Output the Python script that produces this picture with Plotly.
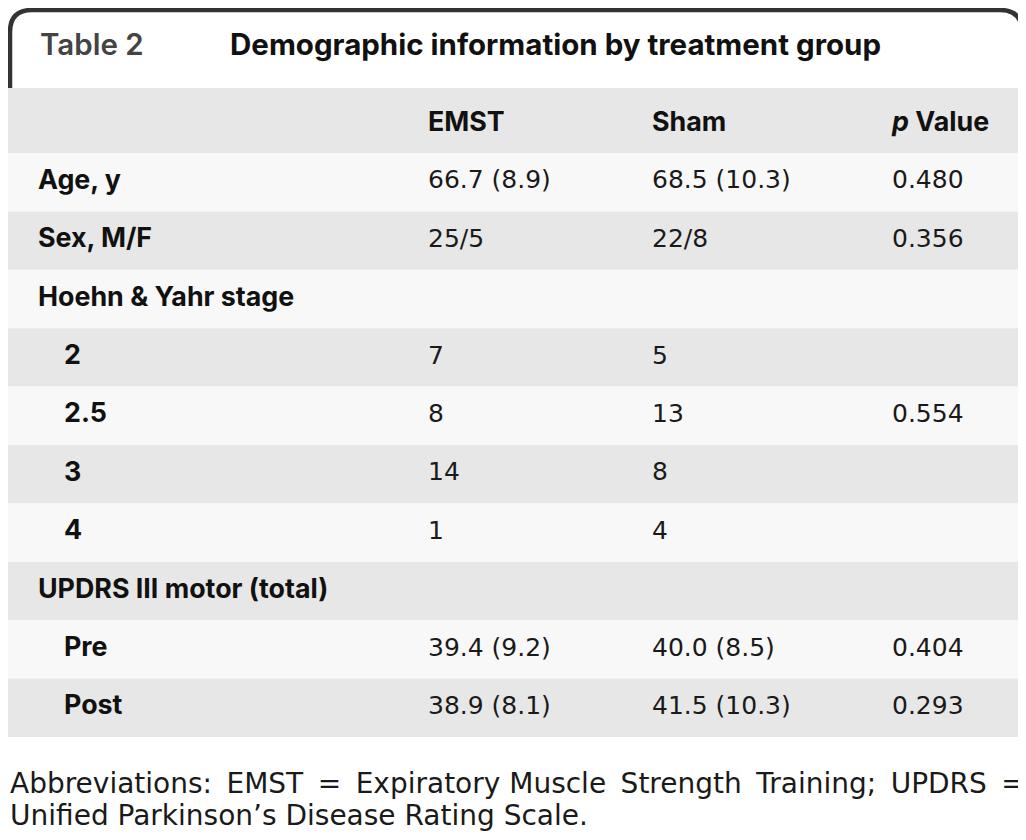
import plotly.graph_objects as go

# table content
row_labels = ["Age, y", "Sex, M/F", "Hoehn & Yahr stage", "2", "2.5", "3", "4",
              "UPDRS III motor (total)", "Pre", "Post"]
indented = [False, False, False, True, True, True, True, False, True, True]
emst = ["66.7 (8.9)", "25/5", "", "7", "8", "14", "1", "", "39.4 (9.2)", "38.9 (8.1)"]
sham = ["68.5 (10.3)", "22/8", "", "5", "13", "8", "4", "", "40.0 (8.5)", "41.5 (10.3)"]
p_values = ["0.480", "0.356", "", "", "0.554", "", "", "", "0.404", "0.293"]
col_headers = ["EMST", "Sham", "<i>p</i> Value"]

title_num = "Table 2"
title_text = "Demographic information by treatment group"
footnote_lines = ["Abbreviations: EMST = Expiratory Muscle Strength Training; UPDRS =",
                  "Unified Parkinson\u2019s Disease Rating Scale."]

# the page body has an 8px margin, so the axes work in picture pixels 8..W
W, H = 1026, 840
OFF = 8
GRAY = "#e7e7e7"
LIGHT = "#f8f8f8"
BOLD = "Inter"
REG = "DejaVu Sans"

# layout of the rows (pixels)
table_top = 88
head_h = 65
row_h = 58.4
col_x = [38, 428, 652, 892]
indent = 26

n = len(row_labels)
row_mid = [table_top + head_h + row_h * (i + 0.5) for i in range(n)]
head_mid = table_top + head_h / 2

fig = go.Figure()

# row backgrounds
fig.add_trace(go.Bar(
    orientation="h",
    y=[head_mid] + row_mid,
    x=[W] * (n + 1),
    base=0,
    width=[head_h] + [row_h] * n,
    marker=dict(color=[GRAY] + [LIGHT if i % 2 == 0 else GRAY for i in range(n)],
                line=dict(width=0)),
    hoverinfo="skip",
))

# row labels
fig.add_trace(go.Scatter(
    x=[col_x[0] + (indent if ind else 0) for ind in indented],
    y=row_mid,
    mode="text",
    text=["<b>" + s + "</b>" for s in row_labels],
    textposition="middle right",
    textfont=dict(family=BOLD, size=26.8, color="#111111"),
    hoverinfo="skip",
))

# column headers
fig.add_trace(go.Scatter(
    x=col_x[1:],
    y=[head_mid + 3.5] * 3,
    mode="text",
    text=["<b>" + s + "</b>" for s in col_headers],
    textposition="middle right",
    textfont=dict(family=BOLD, size=26.8, color="#111111"),
    hoverinfo="skip",
))

# values
for cx, col in zip(col_x[1:], [emst, sham, p_values]):
    fig.add_trace(go.Scatter(
        x=[cx] * n,
        y=row_mid,
        mode="text",
        text=col,
        textposition="middle right",
        textfont=dict(family=REG, size=25, color="#1a1a1a"),
        hoverinfo="skip",
    ))

# rounded tab around the title
r = 22
t, l, rr = 10, 10, W - 4
path = (f"M {l},{table_top} L {l},{t + r} Q {l},{t} {l + r},{t} "
        f"L {rr - r},{t} Q {rr},{t} {rr},{t + r} L {rr},{table_top}")
fig.add_shape(type="path", path=path, xref="x", yref="y",
              line=dict(color="#333333", width=4.5))

fig.add_annotation(x=col_x[0], y=44, xref="x", yref="y",
                   text=title_num, showarrow=False,
                   xanchor="left", yanchor="middle",
                   font=dict(family=BOLD, size=29.5, color="#444444", weight=600))
fig.add_annotation(x=228, y=44, xref="x", yref="y",
                   text="<b>" + title_text + "</b>", showarrow=False,
                   xanchor="left", yanchor="middle",
                   font=dict(family=BOLD, size=29.5, color="#111111"))

# first footnote line is justified in the original: widen its word gaps a little
words = footnote_lines[0].split(" ")
line1 = words[0] + "".join((" " if i == 3 else "\u2009 ") + w
                           for i, w in enumerate(words[1:]))
for yy, line in zip([783, 815], [line1, footnote_lines[1]]):
    fig.add_annotation(x=0, y=yy, xref="paper", yref="y",
                       text=line, showarrow=False,
                       xanchor="left", yanchor="middle",
                       font=dict(family=REG, size=28, color="#1a1a1a"))

fig.update_layout(
    width=W - OFF, height=H - 2 * OFF,
    margin=dict(l=0, r=0, t=0, b=0),
    paper_bgcolor="white", plot_bgcolor="white",
    showlegend=False,
    xaxis=dict(range=[OFF, W], visible=False, fixedrange=True),
    yaxis=dict(range=[H - OFF, OFF], visible=False, fixedrange=True),
)

fig.write_html("out.html")
